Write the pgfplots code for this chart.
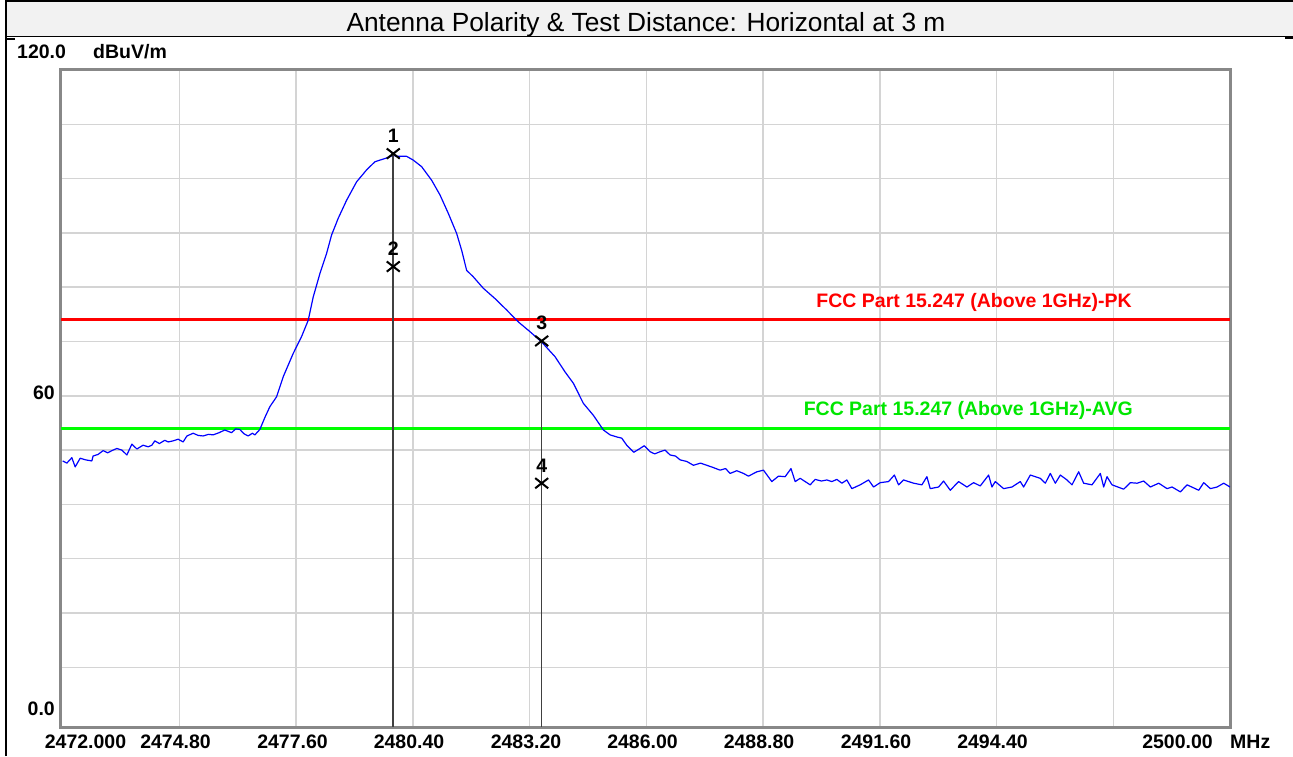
\documentclass[border=0pt]{standalone}
\usepackage{pgfplots}
\pgfplotsset{compat=1.18}
\usepackage{fontspec}
\setmainfont{Liberation Sans}
\definecolor{titlegray}{HTML}{F2F2F2}
\definecolor{gridgray}{HTML}{D4D4D4}
\definecolor{framegray}{HTML}{888888}
\definecolor{mkline}{HTML}{404040}
\definecolor{limred}{HTML}{FF0000}
\definecolor{limgreen}{HTML}{00FF00}
\definecolor{txtgreen}{HTML}{00E600}
\definecolor{trace}{HTML}{0000FF}
\newcommand\lab{\fontsize{19.5}{20}\selectfont\bfseries}
\begin{document}
\begin{tikzpicture}
\begin{scope}[x=1pt,y=1pt]
\path[use as bounding box] (0,0) rectangle (1293,756);
% title band
\fill[titlegray] (6,719) rectangle (1293,754);
\draw[line width=2pt] (5,754.6) -- (1293,754.6);
\draw[line width=1pt] (6,719) -- (1293,719);
\draw[line width=2pt] (1285,718) -- (1293,718);
\draw[line width=1.5pt] (6,717) -- (15,717);
\draw[line width=2.5pt] (6.2,0) -- (6.2,756);
\node[anchor=base] at (646,724) {\fontsize{26.3}{27}\selectfont Antenna Polarity \& Test Distance: Horizontal at 3 m};
\end{scope}
\begin{axis}[
  at={(61pt,29pt)}, anchor=south west, scale only axis,
  width=1169pt, height=657pt,
  xmin=2471.96, xmax=2500, ymin=-1, ymax=120,
  xtick={2474.8,2477.6,2480.4,2483.2,2486.0,2488.8,2491.6,2494.4,2497.2},
  ytick={10,20,30,40,50,60,70,80,90,100,110},
  xticklabels={}, yticklabels={},
  major tick length=0pt,
  grid=major,
  grid style={draw=gridgray, line width=1.5pt},
  axis line style={draw=framegray, line width=3pt},
  clip=true,
]
\addplot[limred, line width=3.2pt] coordinates {(2471.96,74) (2500,74)};
\addplot[limgreen, line width=3.2pt] coordinates {(2471.96,54) (2500,54)};
\addplot[trace, line width=1.2pt, line join=round] table {
2472.00 48.0
2472.10 47.6
2472.22 48.6
2472.30 46.9
2472.42 48.5
2472.55 48.2
2472.70 48.0
2472.73 48.9
2472.85 49.2
2472.97 49.9
2473.08 49.5
2473.18 49.9
2473.30 50.3
2473.42 50.0
2473.54 49.1
2473.66 51.1
2473.78 50.2
2473.93 50.9
2474.05 50.6
2474.14 50.9
2474.21 51.7
2474.32 51.2
2474.45 51.8
2474.53 51.5
2474.65 51.7
2474.77 52.0
2474.89 51.5
2474.98 52.6
2475.13 53.1
2475.25 52.7
2475.37 52.6
2475.50 52.9
2475.61 52.8
2475.75 53.2
2475.89 53.7
2476.05 53.2
2476.15 53.9
2476.25 53.8
2476.35 53.0
2476.45 52.6
2476.55 53.1
2476.61 52.8
2476.73 53.8
2476.85 56.0
2476.97 58.0
2477.13 59.8
2477.29 63.5
2477.53 67.8
2477.73 70.9
2477.89 73.9
2478.01 78.2
2478.17 82.5
2478.33 86.2
2478.45 89.6
2478.61 92.7
2478.81 96.0
2479.05 99.4
2479.29 101.6
2479.49 103.1
2479.77 103.8
2479.93 104.3
2480.01 104.1
2480.25 104.1
2480.41 103.4
2480.61 102.2
2480.85 99.7
2481.05 97.0
2481.25 93.6
2481.45 89.9
2481.57 86.8
2481.69 83.1
2481.85 81.9
2482.09 79.8
2482.37 77.9
2482.65 75.8
2482.93 73.6
2483.21 71.8
2483.49 69.9
2483.81 67.2
2484.05 64.4
2484.25 62.3
2484.49 58.6
2484.73 56.4
2484.97 53.7
2485.13 52.8
2485.30 52.4
2485.41 52.2
2485.53 50.9
2485.70 49.6
2485.85 50.3
2485.95 50.8
2486.09 49.7
2486.20 49.3
2486.33 49.7
2486.45 50.0
2486.57 49.1
2486.70 48.9
2486.81 48.2
2486.97 47.9
2487.13 47.2
2487.30 47.6
2487.45 47.2
2487.60 46.8
2487.77 46.3
2487.90 46.6
2488.01 45.7
2488.17 46.2
2488.33 45.7
2488.45 45.2
2488.65 46.0
2488.81 46.3
2489.01 44.2
2489.17 45.2
2489.33 45.1
2489.47 46.6
2489.57 44.2
2489.69 44.8
2489.93 43.6
2490.05 44.6
2490.20 44.3
2490.33 44.5
2490.45 44.2
2490.57 44.6
2490.69 43.9
2490.81 44.5
2490.93 42.9
2491.13 43.6
2491.33 44.5
2491.45 43.2
2491.61 44.0
2491.81 44.2
2491.95 45.4
2492.05 43.6
2492.17 44.5
2492.41 43.9
2492.61 43.6
2492.73 45.1
2492.81 42.9
2493.01 43.2
2493.13 44.3
2493.29 42.6
2493.49 44.2
2493.69 43.2
2493.85 44.0
2494.01 43.4
2494.21 45.4
2494.29 43.2
2494.37 44.2
2494.57 42.9
2494.77 43.2
2494.97 44.2
2495.05 43.2
2495.21 45.4
2495.45 44.8
2495.57 43.9
2495.69 45.7
2495.81 43.9
2495.93 45.4
2496.09 44.5
2496.21 43.6
2496.37 46.0
2496.49 43.9
2496.69 43.6
2496.89 45.7
2496.97 43.2
2497.05 45.1
2497.17 43.6
2497.45 42.8
2497.61 44.0
2497.77 43.9
2497.93 44.3
2498.09 43.2
2498.29 43.9
2498.49 42.9
2498.61 43.2
2498.81 42.3
2498.97 43.6
2499.25 42.6
2499.37 44.0
2499.53 42.9
2499.69 43.2
2499.85 43.9
2500.00 43.2
};
% marker lines
\addplot[mkline, line width=1.6pt] coordinates {(2479.93,104.6) (2479.93,-1)};
\addplot[mkline, line width=1.6pt] coordinates {(2483.49,70.1) (2483.49,-1)};
% markers
\addplot[only marks, mark=x, mark size=8pt, mark options={black, line width=2pt, xscale=1.15, yscale=0.9}] coordinates {
(2479.93,104.6) (2479.93,83.8) (2483.49,70.1) (2483.49,43.9)};
\node[anchor=base, yshift=11pt] at (axis cs:2479.93,104.6) {\lab 1};
\node[anchor=base, yshift=11pt] at (axis cs:2479.93,83.8) {\lab 2};
\node[anchor=base, yshift=11pt] at (axis cs:2483.49,70.1) {\lab 3};
\node[anchor=base, yshift=11pt] at (axis cs:2483.49,43.9) {\lab 4};
\end{axis}
\begin{scope}[x=1pt,y=1pt]
% limit labels
\node[anchor=base east, text=limred, inner sep=0pt] at (1132,448.7) {\lab FCC Part 15.247 (Above 1GHz)-PK};
\node[anchor=base east, text=txtgreen, inner sep=0pt] at (1133,341) {\lab FCC Part 15.247 (Above 1GHz)-AVG};
% y labels
\node[anchor=base west, inner sep=0pt] at (17,697) {\lab 120.0};
\node[anchor=base west, inner sep=0pt] at (93,697) {\lab dBuV/m};
\node[anchor=base east, inner sep=0pt] at (55,356) {\lab 60};
\node[anchor=base east, inner sep=0pt] at (55,41) {\lab 0.0};
% x labels
\node[anchor=base, inner sep=0pt] at (85.5,7.7) {\lab 2472.000};
\node[anchor=base, inner sep=0pt] at (175.5,7.7) {\lab 2474.80};
\node[anchor=base, inner sep=0pt] at (292.5,7.7) {\lab 2477.60};
\node[anchor=base, inner sep=0pt] at (409,7.7) {\lab 2480.40};
\node[anchor=base, inner sep=0pt] at (526,7.7) {\lab 2483.20};
\node[anchor=base, inner sep=0pt] at (642.5,7.7) {\lab 2486.00};
\node[anchor=base, inner sep=0pt] at (759,7.7) {\lab 2488.80};
\node[anchor=base, inner sep=0pt] at (876,7.7) {\lab 2491.60};
\node[anchor=base, inner sep=0pt] at (992.5,7.7) {\lab 2494.40};
\node[anchor=base, inner sep=0pt] at (1177.5,7.7) {\lab 2500.00};
\node[anchor=base west, inner sep=0pt] at (1230,7.7) {\lab MHz};
\end{scope}
\end{tikzpicture}
\end{document}
